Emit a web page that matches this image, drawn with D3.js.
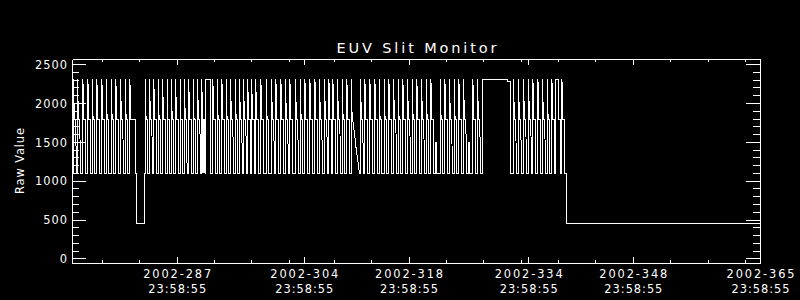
<!DOCTYPE html>
<html><head><meta charset="utf-8">
<script src="https://cdn.jsdelivr.net/npm/d3@7"></script>
<style>html,body{margin:0;padding:0;background:#000;}svg{display:block;background:#000}</style>
</head><body>
<svg id="c" width="800" height="300"></svg>
<script>
// ---------- data ----------
const chartTitle = "EUV Slit Monitor";
const yTitle = "Raw Value";
const xMajorDays = [287, 304, 318, 334, 348, 365];
const xDateLabels = ["2002-287", "2002-304", "2002-318", "2002-334", "2002-348", "2002-365"];
const xTimeLabels = ["23:58:55", "23:58:55", "23:58:55", "23:58:55", "23:58:55", "23:58:55"];
const xMinorDays = [277, 282, 292, 297, 302, 308, 313, 323, 328, 333, 338, 343, 353, 358, 363];
const yMajorTicks = [0, 500, 1000, 1500, 2000, 2500];
const yMinorTicks = [100, 200, 300, 400, 600, 700, 800, 900, 1100, 1200, 1300, 1400,
                     1600, 1700, 1800, 1900, 2100, 2200, 2300, 2400];
const xDomain = [273, 365];
const yDomain = [-60, 2567];

// regular pulses: day of rise (1100 -> 2310 spike -> 1800 plateau -> 1100)
const pulseDays = [
  273.13, 273.67, 274.39, 275.06, 275.63, 276.26, 276.93, 277.51, 278.18, 278.80, 279.42, 280.05,
  282.72, 283.30, 283.87, 284.46, 285.05, 285.64, 286.21, 286.79, 287.38, 287.96, 288.54, 289.13, 289.72,
  291.77, 292.35, 292.98, 293.55, 294.13, 294.76, 295.33, 295.87, 296.43, 296.96, 297.50, 298.19, 298.90,
  299.61, 300.20, 300.87, 301.48, 302.07, 302.82, 303.45, 304.08, 304.75, 305.42, 306.03, 306.70, 307.29,
  307.82, 308.44, 309.07, 309.69,
  311.51, 312.10, 312.77, 313.44, 314.01, 314.68, 315.31, 315.93, 316.55, 317.18, 317.80, 318.43, 319.05,
  319.67, 320.30, 320.93, 322.17, 322.80, 323.41, 324.04, 324.67, 325.29, 326.54, 327.16,
  331.97, 332.64, 333.31, 333.98, 334.57, 335.24, 335.85, 336.48, 337.11, 338.45
];
// shape of one pulse: [day offset, value]
const pulseShape = [[0, 1100], [0, 2310], [0.12, 1800], [0.32, 1800], [0.36, 1100]];
// pulses that only reach ~1500
const partialDays = [321.54, 325.92];
const partialShape = [[0, 1100], [0, 1500], [0.2, 1500], [0.2, 1100]];
// irregular stretches, [day, value]
const specialPoints = [
  [273.02, 1100],
  [280.68, 1100], [280.68, 2310], [280.76, 1800], [281.38, 1800], [281.38, 1100], [281.56, 1100],
  [281.56, 455], [282.59, 455], [282.59, 1100],
  [290.30, 1100], [290.30, 2310], [290.36, 1800], [290.42, 1100], [290.47, 1800], [290.52, 1100],
  [290.57, 1800], [290.62, 1100], [290.67, 1800], [290.72, 1100], [290.79, 1100], [290.79, 2310],
  [291.45, 2310], [291.45, 1100],
  [310.31, 1100], [310.31, 2310], [310.39, 1800], [310.46, 1800], [310.70, 1620], [310.95, 1400],
  [311.20, 1230], [311.37, 1100],
  [327.83, 1100], [327.83, 2310], [331.13, 2310], [331.13, 2290], [331.53, 2290], [331.53, 1100],
  [337.55, 1100], [337.55, 2310], [338.04, 2310], [338.04, 1800], [338.20, 1800], [338.20, 1100],
  [339.06, 1100], [339.06, 455], [365, 455]
];

// ---------- build series ----------
let pts = specialPoints.map(p => ({d: p[0], v: p[1]}));
pulseDays.forEach(t => pulseShape.forEach(s => pts.push({d: t + s[0], v: s[1]})));
partialDays.forEach(t => partialShape.forEach(s => pts.push({d: t + s[0], v: s[1]})));
pts = pts.map((p, i) => ({...p, i})).sort((a, b) => a.d - b.d || a.i - b.i);

// ---------- drawing ----------
const svg = d3.select("#c");
const L = 72, R = 760, T = 59, B = 263;
const x = d3.scaleLinear().domain(xDomain).range([L, R]);
const y = d3.scaleLinear().domain(yDomain).range([B, T]);
const font = "'DejaVu Sans', sans-serif";

function styleAxis(g) {
  g.selectAll("path,line").attr("stroke", "#fff").attr("stroke-width", 1).attr("shape-rendering", "crispEdges");
  g.selectAll("text").remove();
}
[[d3.axisBottom, B], [d3.axisTop, T]].forEach(([ax, pos]) => {
  svg.append("g").attr("transform", `translate(0,${pos})`)
    .call(ax(x).tickValues(xMajorDays).tickSizeInner(-6).tickSizeOuter(0).tickFormat(""))
    .call(styleAxis);
  svg.append("g").attr("transform", `translate(0,${pos})`)
    .call(ax(x).tickValues(xMinorDays).tickSizeInner(-3).tickSizeOuter(0).tickFormat(""))
    .call(g => g.select(".domain").remove()).call(styleAxis);
});
[[d3.axisLeft, L], [d3.axisRight, R]].forEach(([ax, pos]) => {
  svg.append("g").attr("transform", `translate(${pos},0)`)
    .call(ax(y).tickValues(yMajorTicks).tickSizeInner(-14).tickSizeOuter(0).tickFormat(""))
    .call(styleAxis);
  svg.append("g").attr("transform", `translate(${pos},0)`)
    .call(ax(y).tickValues(yMinorTicks).tickSizeInner(-7).tickSizeOuter(0).tickFormat(""))
    .call(g => g.select(".domain").remove()).call(styleAxis);
});

// data line
const line = d3.line().x(p => x(p.d) + 0.5).y(p => y(p.v) + 0.5);
svg.append("path").datum(pts).attr("d", line)
  .attr("fill", "none").attr("stroke", "#fff").attr("stroke-width", 1)
  .attr("shape-rendering", "crispEdges");

// y tick labels
svg.append("g").selectAll("text").data(yMajorTicks).join("text")
  .attr("x", 68).attr("y", d => y(d) + 0.5 + 4.2)
  .attr("text-anchor", "end").attr("fill", "#fff")
  .style("font-family", font).style("font-size", "11.4px").style("letter-spacing", "1px")
  .text(d => d);

// x tick labels
const xl = svg.append("g");
xl.selectAll("text.date").data(xMajorDays).join("text").attr("class", "date")
  .attr("x", d => x(d) + 0.5).attr("y", 278)
  .attr("text-anchor", "middle").attr("fill", "#fff")
  .attr("textLength", 68).attr("lengthAdjust", "spacing")
  .style("font-family", font).style("font-size", "11.4px")
  .text((d, i) => xDateLabels[i]);
xl.selectAll("text.time").data(xMajorDays).join("text").attr("class", "time")
  .attr("x", d => x(d) + 0.5).attr("y", 293)
  .attr("text-anchor", "middle").attr("fill", "#fff")
  .attr("textLength", 58).attr("lengthAdjust", "spacing")
  .style("font-family", font).style("font-size", "11.4px")
  .text((d, i) => xTimeLabels[i]);

// y title
svg.append("text").attr("transform", `translate(23.5,${(T + B) / 2}) rotate(-90)`)
  .attr("text-anchor", "middle").attr("fill", "#fff")
  .attr("textLength", 66).attr("lengthAdjust", "spacing")
  .style("font-family", font).style("font-size", "11.4px")
  .text(yTitle);

// title
svg.append("text").attr("x", (L + R) / 2 + 0.5).attr("y", 53)
  .attr("text-anchor", "middle").attr("fill", "#fff")
  .attr("textLength", 160).attr("lengthAdjust", "spacing")
  .style("font-family", font).style("font-size", "14.5px")
  .text(chartTitle);
</script>
</body></html>
